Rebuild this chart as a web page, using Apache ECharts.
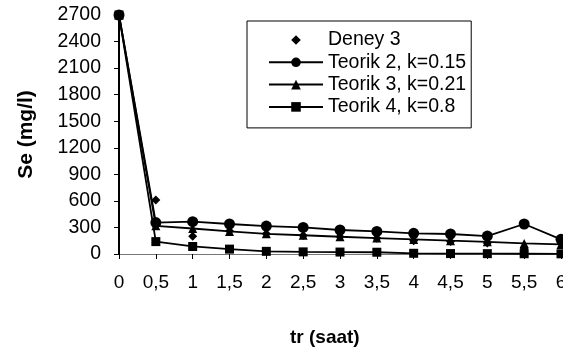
<!DOCTYPE html>
<html>
<head>
<meta charset="utf-8">
<script src="https://cdn.jsdelivr.net/npm/echarts@6/dist/echarts.min.js"></script>
<style>
  html, body { margin: 0; padding: 0; background: #fff; }
  #chart { width: 563px; height: 355px; }
</style>
</head>
<body>
<div id="chart"></div>
<script>
// Retention time (hours)
const times = [0, 0.5, 1, 1.5, 2, 2.5, 3, 3.5, 4, 4.5, 5, 5.5, 6];

// Measured effluent concentration, Se (mg/l)
const deney3 = [2700, 610, 200, 260, 230, 210, 195, 178, 150, 140, 125, 60, 130];

// Model curves for different rate constants
const teorik2 = [2700, 355, 365, 339, 316, 300, 271, 255, 234, 226, 203, 339, 166];
const teorik3 = [2700, 318, 288, 255, 228, 212, 195, 180, 165, 150, 138, 120, 108];
const teorik4 = [2700, 140, 85, 55, 30, 24, 22, 20, 8, 5, 4, 3, 2];

const seriesNames = ['Deney 3', 'Teorik 2, k=0.15', 'Teorik 3, k=0.21', 'Teorik 4, k=0.8'];

const pairs = (ys) => times.map((t, i) => [t, ys[i]]);

const font = 'Arial, "Liberation Sans", sans-serif';

const lineSeries = (name, ys, symbol, size, lineOpacity) => ({
  name,
  type: 'line',
  data: pairs(ys),
  symbol,
  symbolSize: size,
  showAllSymbol: true,
  lineStyle: { color: '#000', width: 1.8, opacity: lineOpacity },
  itemStyle: { color: '#000', opacity: 1 },
  animation: false
});

const chart = echarts.init(document.getElementById('chart'));
chart.setOption({
  backgroundColor: '#fff',
  animation: false,
  grid: {
    left: 119, top: 15, right: 2, bottom: 101,
    containLabel: false,
    outerBoundsMode: 'none'
  },
  legend: {
    orient: 'vertical',
    left: 247,
    top: 21,
    padding: [9, 5, 11, 21],
    borderColor: '#000',
    borderWidth: 1,
    itemWidth: 54,
    itemHeight: 12,
    itemGap: 2.3,
    textStyle: { fontFamily: font, fontSize: 19.5, lineHeight: 20, color: '#000' },
    data: seriesNames
  },
  xAxis: {
    type: 'value',
    min: 0,
    max: 6,
    interval: 0.5,
    axisLine: { lineStyle: { color: '#777', width: 1 } },
    axisTick: { show: true, length: 5, lineStyle: { color: '#000', width: 1 } },
    splitLine: { show: false },
    axisLabel: {
      margin: 19,
      fontFamily: font,
      fontSize: 19,
      color: '#000',
      formatter: (v) => String(v).replace('.', ',')
    }
  },
  yAxis: {
    type: 'value',
    min: 0,
    max: 2700,
    interval: 300,
    name: 'Se (mg/l)',
    nameLocation: 'middle',
    nameGap: 82,
    nameTextStyle: { fontFamily: font, fontSize: 21, fontWeight: 'bold', color: '#000' },
    axisLine: { show: true, lineStyle: { color: '#000', width: 2 } },
    axisTick: { show: true, length: 5, lineStyle: { color: '#000', width: 1 } },
    splitLine: { show: false },
    axisLabel: {
      margin: 18,
      fontFamily: font,
      fontSize: 19.5,
      color: '#000',
      formatter: (v) => String(v)
    }
  },
  graphic: [{
    type: 'text',
    left: 290,
    top: 328,
    style: { text: 'tr (saat)', font: 'bold 19px ' + font, fill: '#000' }
  }],
  series: [
    // measured points only: line kept invisible so the legend shows just the diamond
    lineSeries(seriesNames[0], deney3, 'diamond', 9, 0),
    lineSeries(seriesNames[1], teorik2, 'circle', 11, 1),
    lineSeries(seriesNames[2], teorik3, 'triangle', 9, 1),
    lineSeries(seriesNames[3], teorik4, 'rect', 9, 1)
  ]
});
</script>
</body>
</html>
